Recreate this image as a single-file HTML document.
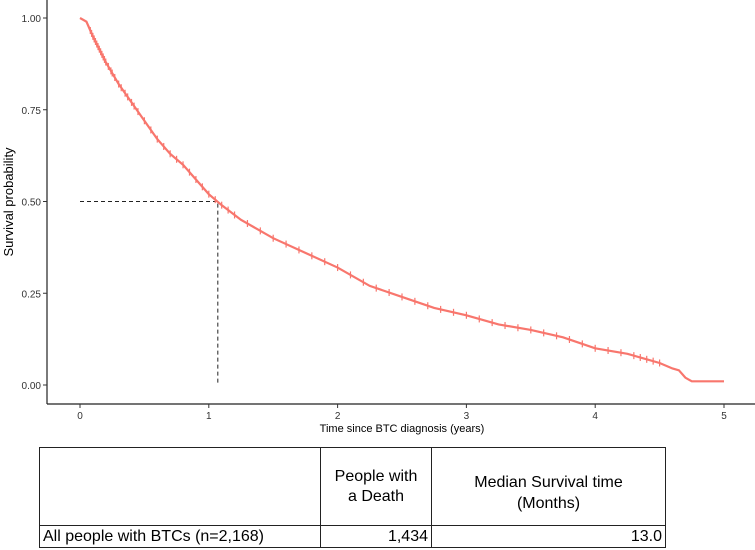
<!DOCTYPE html>
<html><head><meta charset="utf-8"><style>
body{margin:0;background:#fff;font-family:"Liberation Sans",sans-serif}
#wrap{position:relative;width:755px;height:550px;overflow:hidden}
table{position:absolute;left:39px;top:447px;border-collapse:collapse;font-size:16px}
td{border:1px solid #222;padding:0 3px;color:#000}
</style></head><body>
<div id="wrap">
<svg id="c" width="755" height="440" style="position:absolute;left:0;top:0"></svg>
<table>
<tr style="height:78px"><td style="width:274px"></td>
<td style="width:104px;text-align:center;line-height:20px">People with<br>a Death</td>
<td style="width:227px;text-align:center;line-height:21px;padding-top:12px">Median Survival time<br>(Months)</td></tr>
<tr style="height:22px"><td>All people with BTCs (n=2,168)</td>
<td style="text-align:right">1,434</td>
<td style="text-align:right">13.0</td></tr>
</table>
</div>
<script>
const times=[0,0.05,0.1,0.2,0.3,0.4,0.5,0.6,0.7,0.8,0.9,1.0,1.1,1.25,1.5,1.75,2.0,2.25,2.5,2.75,3.0,3.25,3.5,3.75,4.0,4.25,4.4,4.5,4.6,4.65,4.7,4.75,5.0];
const survival=[1.0,0.99,0.95,0.88,0.82,0.77,0.72,0.67,0.63,0.60,0.56,0.52,0.49,0.45,0.40,0.36,0.32,0.27,0.24,0.21,0.19,0.165,0.15,0.13,0.10,0.085,0.07,0.06,0.045,0.04,0.02,0.01,0.01];
const censorTimes=[0.08,0.09,0.1,0.11,0.12,0.13,0.14,0.15,0.16,0.17,0.18,0.19,0.2,0.22,0.24,0.25,0.27,0.3,0.32,0.35,0.37,0.4,0.42,0.45,0.5,0.55,0.6,0.65,0.7,0.75,0.8,0.85,0.9,0.95,1.0,1.05,1.1,1.15,1.2,1.3,1.4,1.5,1.6,1.7,1.8,1.9,2.0,2.1,2.2,2.3,2.4,2.5,2.6,2.7,2.8,2.9,3.0,3.1,3.2,3.3,3.4,3.5,3.6,3.7,3.8,3.9,4.0,4.1,4.2,4.3,4.35,4.4,4.45,4.5];
const xTicks=[0,1,2,3,4,5];
const yTicks=[0,0.25,0.5,0.75,1.0];
const yLabels=["0.00","0.25","0.50","0.75","1.00"];
const medianTime=1.07;
const X=t=>80+t*128.8, Y=s=>385-s*367;
const svg=document.getElementById('c');const NS='http://www.w3.org/2000/svg';
function mk(tag,at,name){const e=document.createElementNS(NS,tag);for(const k in at)e.setAttribute(k,at[k]);


svg.appendChild(e);return e;}
function interp(t){for(let i=1;i<times.length;i++)if(t<=times[i]){const f=(t-times[i-1])/(times[i]-times[i-1]);return survival[i-1]+f*(survival[i]-survival[i-1]);}return survival[survival.length-1];}
mk('line',{x1:47,y1:0,x2:47,y2:404,stroke:'#222','stroke-width':1.2},'y-axis-line');
mk('line',{x1:47,y1:404,x2:755,y2:404,stroke:'#222','stroke-width':1.2},'x-axis-line');
xTicks.forEach(t=>{mk('line',{x1:X(t),y1:404,x2:X(t),y2:408,stroke:'#333'},'x-tick');
const tx=mk('text',{x:X(t),y:419,'font-size':10,'text-anchor':'middle',fill:'#333'},'x-tick-label');tx.textContent=t;});
yTicks.forEach((v,i)=>{mk('line',{x1:43,y1:Y(v),x2:47,y2:Y(v),stroke:'#333'},'y-tick');
const tx=mk('text',{x:41,y:Y(v)+4,'font-size':10,'text-anchor':'end',fill:'#333'},'y-tick-label');tx.textContent=yLabels[i];});
const xt=mk('text',{x:402,y:432,'font-size':11,'text-anchor':'middle'},'x-axis-title');xt.textContent='Time since BTC diagnosis (years)';
const yt=mk('text',{x:13,y:202,'font-size':13,'text-anchor':'middle',transform:'rotate(-90 13 202)'},'y-axis-title');yt.textContent='Survival probability';
mk('polyline',{points:`${X(0)},${Y(0.5)} ${X(medianTime)},${Y(0.5)} ${X(medianTime)},${Y(0)}`,fill:'none',stroke:'#222','stroke-dasharray':'4,3','stroke-width':1},'median-line');
mk('polyline',{points:times.map((t,i)=>X(t)+','+Y(survival[i])).join(' '),fill:'none',stroke:'#F8766D','stroke-width':2.2},'survival-curve');
censorTimes.forEach(t=>{const x=X(t),y=Y(interp(t));mk('line',{x1:x,y1:y-3.5,x2:x,y2:y+3.5,stroke:'#F8766D','stroke-width':1.2},'censor-mark');});
</script>
</body></html>
